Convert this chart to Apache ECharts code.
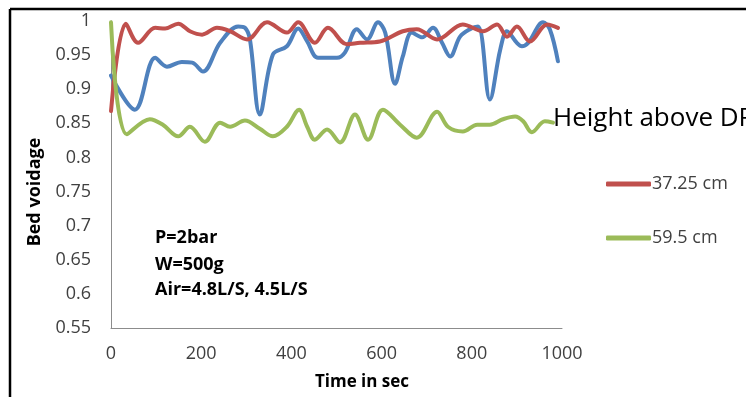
<!DOCTYPE html>
<html>
<head>
<meta charset="utf-8">
<script src="https://cdn.jsdelivr.net/npm/echarts@6/dist/echarts.min.js"></script>
<style>
  html, body { margin: 0; padding: 0; background: #fff; }
  #chart { width: 746px; height: 397px; }
</style>
</head>
<body>
<div id="chart"></div>
<script>
// Bed voidage time series at three probe heights (time in s, voidage fraction)
const blueTime = [0, 53, 98, 124, 157, 180, 204, 242, 282, 297, 308, 330, 359, 390, 415, 435, 459, 501, 519, 545, 568, 592, 608, 630, 647, 667, 690, 714, 734, 752, 774, 796, 814, 840, 863, 878, 900, 911, 925, 958, 973, 991];
const blueVoid = [0.920, 0.870, 0.946, 0.933, 0.940, 0.939, 0.926, 0.968, 0.992, 0.990, 0.973, 0.863, 0.951, 0.963, 0.989, 0.970, 0.946, 0.946, 0.954, 0.988, 0.973, 0.998, 0.983, 0.908, 0.948, 0.983, 0.976, 0.990, 0.968, 0.948, 0.977, 0.988, 0.992, 0.885, 0.958, 0.985, 0.968, 0.963, 0.968, 0.998, 0.988, 0.941];

const redTime = [0, 33, 60, 98, 120, 149, 175, 202, 235, 264, 302, 346, 390, 415, 452, 481, 523, 552, 596, 647, 678, 723, 780, 825, 856, 878, 900, 929, 967, 991];
const redVoid = [0.868, 0.996, 0.968, 0.990, 0.989, 0.996, 0.985, 0.980, 0.990, 0.985, 0.973, 0.998, 0.983, 0.998, 0.968, 0.990, 0.966, 0.968, 0.970, 0.985, 0.988, 0.973, 0.995, 0.985, 0.995, 0.977, 0.992, 0.970, 0.995, 0.990];

const greenTime = [0, 35, 86, 115, 149, 175, 208, 242, 264, 297, 330, 359, 390, 417, 435, 452, 479, 508, 541, 570, 603, 641, 678, 723, 747, 780, 812, 840, 869, 896, 914, 933, 962, 980];
const greenVoid = [0.998, 0.834, 0.856, 0.848, 0.831, 0.845, 0.823, 0.851, 0.845, 0.854, 0.842, 0.831, 0.845, 0.870, 0.845, 0.826, 0.841, 0.822, 0.863, 0.826, 0.870, 0.848, 0.829, 0.867, 0.845, 0.838, 0.848, 0.848, 0.856, 0.860, 0.853, 0.837, 0.853, 0.851];

const seriesNames = ['25 cm', '37.25 cm', '59.5 cm'];
const legendNames = ['37.25 cm', '59.5 cm'];
const yTicks = { min: 0.55, max: 1, step: 0.05 };
const xTicks = { min: 0, max: 1000, step: 200 };
const notes = ['P=2bar', 'W=500g', 'Air=4.8L/S, 4.5L/S'];
const legendTitle = 'Height above DP';
const xTitle = 'Time in sec';
const yTitle = 'Bed voidage';

const pairs = (t, v) => t.map((x, i) => [x, v[i]]);
const FONT = '"Open Sans", sans-serif';

const chart = echarts.init(document.getElementById('chart'), null, { renderer: 'canvas' });

const lineSeries = (name, data, color) => ({
  name, type: 'line', data, smooth: 0.35, symbol: 'none',
  lineStyle: { color, width: 4, cap: 'round', join: 'round' },
  itemStyle: { color },
  animation: false
});

chart.setOption({
  backgroundColor: '#ffffff',
  animation: false,
  textStyle: { fontFamily: FONT },
  grid: { left: 111, top: 21, right: 184, bottom: 69, containLabel: false },
  xAxis: {
    type: 'value', min: xTicks.min, max: xTicks.max, interval: xTicks.step,
    axisLine: { show: true, lineStyle: { color: '#8c8c8c', width: 1 } },
    axisTick: { show: false },
    splitLine: { show: false },
    axisLabel: { margin: 17, fontFamily: FONT, fontSize: 18, color: '#404040', formatter: v => String(v) }
  },
  yAxis: {
    type: 'value', min: yTicks.min, max: yTicks.max, interval: yTicks.step,
    axisLine: { show: true, lineStyle: { color: '#8c8c8c', width: 1 } },
    axisTick: { show: false },
    splitLine: { show: false },
    axisLabel: {
      margin: 20, fontFamily: FONT, fontSize: 18, color: '#404040',
      formatter: v => String(+v.toFixed(2))
    }
  },
  legend: {
    data: legendNames,
    orient: 'vertical', left: 601, top: 168,
    itemWidth: 45, itemHeight: 5, itemGap: 32, icon: 'roundRect',
    textStyle: { fontFamily: FONT, fontSize: 18, color: '#404040', lineHeight: 22, padding: [0, 0, 0, -4] }
  },
  graphic: [
    { type: 'line', shape: { x1: 10, y1: 9, x2: 746, y2: 9 }, style: { stroke: '#000', lineWidth: 2.5 } },
    { type: 'line', shape: { x1: 10, y1: 9, x2: 10, y2: 397 }, style: { stroke: '#000', lineWidth: 2.5 } },
    { type: 'text', x: 362, y: 382, style: { text: xTitle, font: 'bold 17px ' + FONT, fill: '#000', align: 'center', verticalAlign: 'middle' } },
    { type: 'text', x: 35, y: 192, rotation: Math.PI / 2, style: { text: yTitle, font: 'bold 18px ' + FONT, fill: '#000', align: 'center', verticalAlign: 'middle' } },
    { type: 'text', left: 155, top: 229, style: { text: notes[0], font: 'bold 18px ' + FONT, fill: '#000' } },
    { type: 'text', left: 155, top: 256, style: { text: notes[1], font: 'bold 18px ' + FONT, fill: '#000' } },
    { type: 'text', left: 155, top: 281, style: { text: notes[2], font: 'bold 18px ' + FONT, fill: '#000' } },
    { type: 'text', left: 553, top: 106, style: { text: legendTitle, font: '26px ' + FONT, fill: '#000' } }
  ],
  series: [
    lineSeries(seriesNames[0], pairs(blueTime, blueVoid), '#4f81bd'),
    lineSeries(seriesNames[1], pairs(redTime, redVoid), '#c0504d'),
    lineSeries(seriesNames[2], pairs(greenTime, greenVoid), '#9bbb59')
  ]
});
</script>
</body>
</html>
